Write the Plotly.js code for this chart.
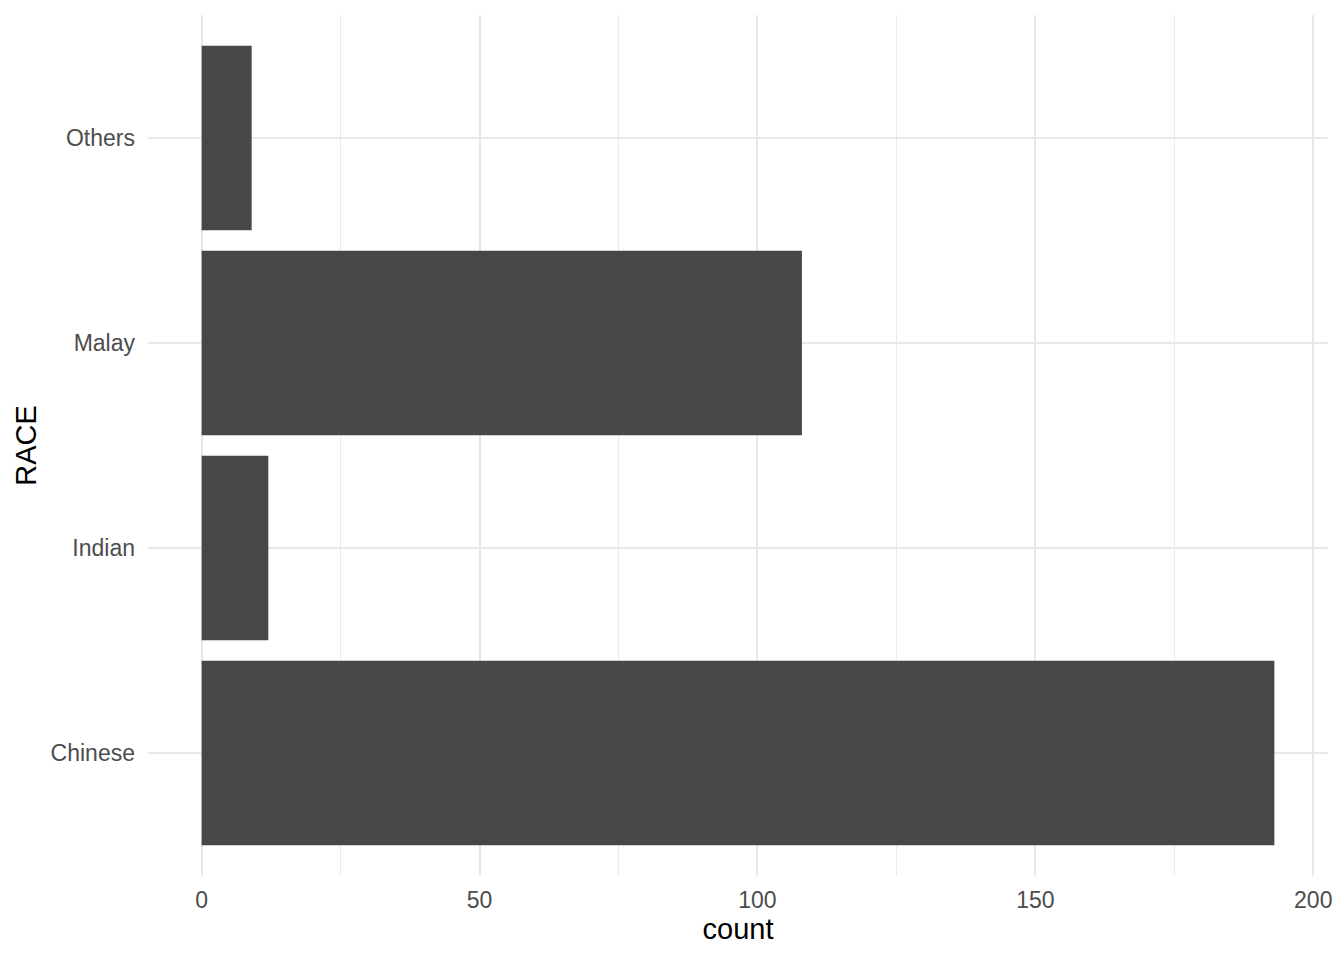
<!DOCTYPE html>
<html>
<head>
<meta charset="utf-8">
<script src="https://cdn.plot.ly/plotly-3.0.1.min.js"></script>
<style>html,body{margin:0;padding:0;background:#fff;}#chart{width:1344px;height:960px;}</style>
</head>
<body>
<div id="chart"></div>
<script>
const races = ["Chinese", "Indian", "Malay", "Others"];
const counts = [193, 12, 108, 9];
const xTicks = [0, 50, 100, 150, 200];

const trace = {
  type: "bar",
  orientation: "h",
  x: counts,
  y: races,
  marker: {color: "#474747", line: {width: 0}},
  width: 0.9,
  hoverinfo: "x+y"
};

const maxC = Math.max(...counts);
const pad = maxC * 0.05;

const layout = {
  width: 1344,
  height: 960,
  margin: {l: 148, r: 16, t: 15, b: 84},
  paper_bgcolor: "#ffffff",
  plot_bgcolor: "#ffffff",
  showlegend: false,
  font: {family: "Liberation Sans, Arial, sans-serif", color: "#4d4d4d"},
  xaxis: {
    range: [-pad, maxC + pad],
    tickvals: xTicks,
    ticktext: xTicks.map(String),
    showgrid: true,
    gridcolor: "#e8e8e8",
    gridwidth: 2,
    minor: {dtick: 25, tick0: 0, showgrid: true, gridcolor: "#ebebeb", gridwidth: 1},
    zeroline: false,
    showline: false,
    ticks: "",
    ticklabelstandoff: 8,
    tickfont: {size: 23, color: "#4d4d4d"},
    title: {text: "count", font: {size: 29, color: "#000000"}, standoff: 4},
    automargin: false
  },
  yaxis: {
    type: "category",
    categoryorder: "array",
    categoryarray: races,
    range: [-0.6, races.length - 0.4],
    showgrid: true,
    gridcolor: "#e8e8e8",
    gridwidth: 2,
    zeroline: false,
    showline: false,
    ticks: "",
    ticklabelstandoff: 12,
    tickfont: {size: 23, color: "#4d4d4d"},
    title: {text: "RACE", font: {size: 29, color: "#000000"}, standoff: 5},
    automargin: false
  }
};

Plotly.newPlot("chart", [trace], layout, {displayModeBar: false, staticPlot: true});
</script>
</body>
</html>
